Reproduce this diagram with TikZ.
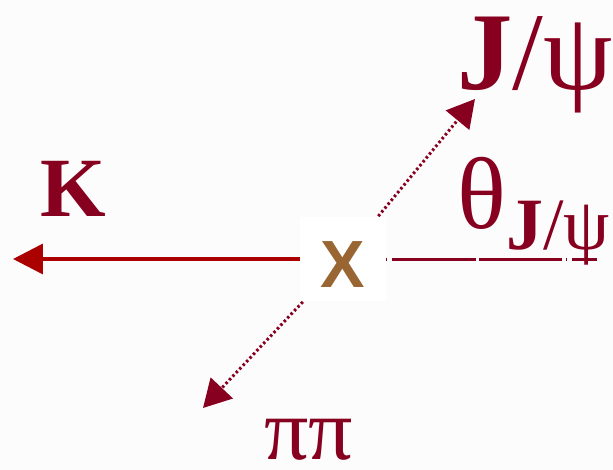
\documentclass[tikz,border=0pt]{standalone}
\usepackage{fontspec}
\setmainfont{Liberation Serif}
\newfontfamily\vertexfont{Liberation Sans}
\usetikzlibrary{arrows.meta}
\definecolor{decayred}{RGB}{136,0,32}
\definecolor{kaonred}{RGB}{170,0,0}
\definecolor{vertexbrown}{RGB}{153,102,51}
\definecolor{paper}{RGB}{252,252,252}

\begin{document}
\begin{tikzpicture}[x=0.02cm, y=-0.02cm,
		every node/.style={inner sep=0pt},
		particle/.style={text=decayred, anchor=base west, text depth=0cm},
		vertex/.style={fill=white, minimum width=1.72cm, minimum height=1.7cm, text height=1.14cm, text depth=0cm, text=vertexbrown, font=\vertexfont\bfseries\fontsize{38}{40}\selectfont},
		kaon/.style={draw=kaonred, line width=0.07cm, -{Triangle[length=0.6cm,width=0.6cm]}},
		track/.style={draw=decayred, line width=0.06cm, dash pattern=on 0.05cm off 0.05cm, -{Triangle[length=0.55cm,width=0.6cm]}},
		axisline/.style={draw=decayred, line width=0.06cm, dash pattern=on 0.02cm off 0.1cm on 1.68cm off 0.06cm on 1.66cm off 0.08cm}
		]
		
		% Page
		\useasboundingbox (0,0) rectangle (613,470);
		\fill[paper] (0,0) rectangle (613,470);
		
		% Decay vertex
		\node[vertex] (X) at (343,259) {X};
		
		% End points of the tracks
		\coordinate (ktip) at (13,259);
		\coordinate (jtip) at (475,99);
		\coordinate (pitip) at (203,408);
		\coordinate (axis) at (597,259);
		
		% Tracks
		\draw[kaon] (X) -- (ktip);
		\draw[track] (X) -- (jtip);
		\draw[track] (X) -- (pitip);
		\draw[axisline] (X) -- (axis);
		
		% Particle labels
		\node[particle, text height=1.12cm, font=\bfseries\fontsize{48}{50}\selectfont] (K) at (40,216) {K};
		\node[particle, text height=1.5cm, text depth=0.3cm, font=\fontsize{63}{66}\selectfont] (Jpsi) at (457,90) {\textbf{J}/ψ};
		\node[particle, text height=1.4cm, font=\fontsize{58}{60}\selectfont] (theta) at (457,228) {θ\raisebox{-0.44cm}{\fontsize{42}{46}\selectfont\textbf{J}/ψ}};
		\node[particle, text height=0.9cm, font=\fontsize{50}{54}\selectfont] (pipi) at (264,459) {ππ};
		
	\end{tikzpicture}
\end{document}
